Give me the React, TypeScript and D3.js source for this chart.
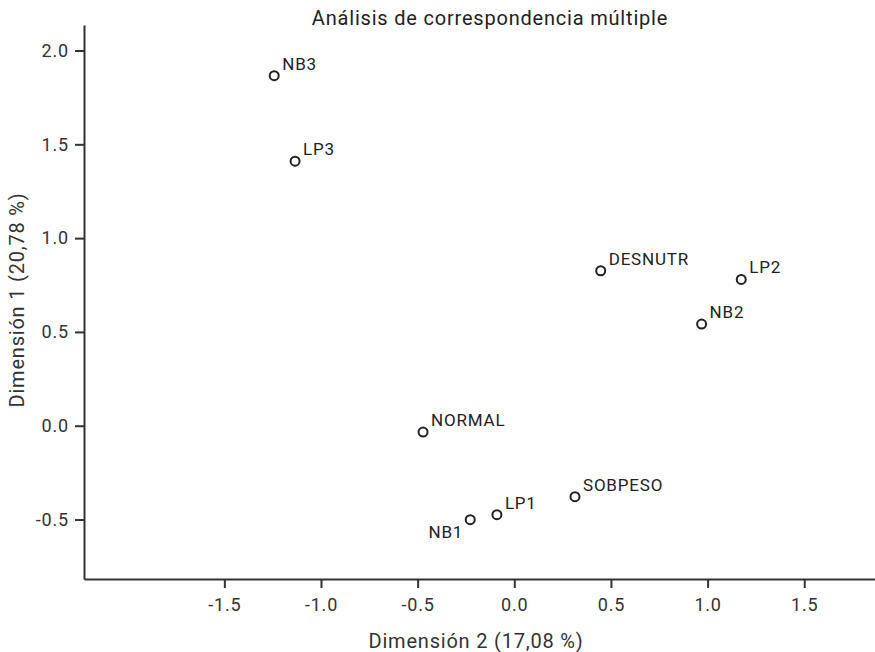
import React, { useEffect, useRef } from 'react';
import * as d3 from 'd3';

// category points of the MCA biplot
const categories = ['NB3', 'LP3', 'DESNUTR', 'LP2', 'NB2', 'NORMAL', 'SOBPESO', 'LP1', 'NB1'];
const dim2Values = [-1.242, -1.134, 0.447, 1.174, 0.969, -0.472, 0.314, -0.09, -0.228];
const dim1Values = [1.866, 1.41, 0.826, 0.78, 0.542, -0.034, -0.378, -0.474, -0.501];

const xTicks = [-1.5, -1.0, -0.5, 0.0, 0.5, 1.0, 1.5];
const yTicks = [-0.5, 0.0, 0.5, 1.0, 1.5, 2.0];

const chartTitle = 'Análisis de correspondencia múltiple';
const xLabel = 'Dimensión 2 (17,08 %)';
const yLabel = 'Dimensión 1 (20,78 %)';

// labels drawn below-left of their marker instead of above-right
const labelsBelowLeft = ['NB1'];

const App = () => {
  const svgRef = useRef<SVGSVGElement>(null);

  useEffect(() => {
    const width = 875;
    const height = 652;
    const margin = { top: 25, right: 0, bottom: 73, left: 84 };
    const font = 'Roboto, "Noto Sans", sans-serif';
    const ink = '#333';
    const fmt = (d: d3.NumberValue) => d3.format('.1f')(d).replace('\u2212', '-');

    const svg = d3.select(svgRef.current);
    svg.selectAll('*').remove();

    const x = d3.scaleLinear().domain([-2.226, 1.866]).range([margin.left, width - margin.right]);
    const y = d3.scaleLinear().domain([-0.817, 2.136]).range([height - margin.bottom, margin.top]);

    // title
    svg
      .append('text')
      .attr('x', 490)
      .attr('y', 25)
      .attr('text-anchor', 'middle')
      .attr('font-family', font)
      .attr('font-size', '20px')
      .attr('letter-spacing', '0.8px')
      .attr('fill', '#222')
      .text(chartTitle);

    // axes
    const xAxis = svg
      .append('g')
      .attr('transform', `translate(0, ${height - margin.bottom})`)
      .call(
        d3.axisBottom(x).tickValues(xTicks).tickFormat(fmt).tickSize(9).tickSizeOuter(0).tickPadding(10)
      );

    const yAxis = svg
      .append('g')
      .attr('transform', `translate(${margin.left}, 0)`)
      .call(
        d3.axisLeft(y).tickValues(yTicks).tickFormat(fmt).tickSize(9).tickSizeOuter(0).tickPadding(6)
      );

    [xAxis, yAxis].forEach((g) => {
      g.select('.domain').attr('stroke', ink).attr('stroke-width', 2);
      g.selectAll('.tick line').attr('stroke', ink).attr('stroke-width', 2);
      g.selectAll('.tick text')
        .attr('fill', ink)
        .attr('font-family', font)
        .attr('font-size', '18px')
        .attr('letter-spacing', '0.8px');
    });

    // axis titles
    svg
      .append('text')
      .attr('x', 476)
      .attr('y', 648)
      .attr('text-anchor', 'middle')
      .attr('font-family', font)
      .attr('font-size', '20px')
      .attr('letter-spacing', '0.8px')
      .attr('fill', ink)
      .text(xLabel);

    svg
      .append('text')
      .attr('transform', `translate(24, 300) rotate(-90)`)
      .attr('text-anchor', 'middle')
      .attr('font-family', font)
      .attr('font-size', '20px')
      .attr('letter-spacing', '0.8px')
      .attr('fill', ink)
      .text(yLabel);

    const points = categories.map((name, i) => ({ name, dx: dim2Values[i], dy: dim1Values[i] }));

    const pts = svg.append('g').selectAll('g').data(points).enter().append('g');

    pts
      .append('circle')
      .attr('cx', (d) => x(d.dx))
      .attr('cy', (d) => y(d.dy))
      .attr('r', 4.5)
      .attr('fill', 'none')
      .attr('stroke', '#222')
      .attr('stroke-width', 2);

    pts
      .append('text')
      .attr('x', (d) => x(d.dx) + (labelsBelowLeft.includes(d.name) ? -7 : 8))
      .attr('y', (d) => y(d.dy) + (labelsBelowLeft.includes(d.name) ? 18 : -6))
      .attr('text-anchor', (d) => (labelsBelowLeft.includes(d.name) ? 'end' : 'start'))
      .attr('font-family', font)
      .attr('font-size', '17px')
      .attr('letter-spacing', '0.8px')
      .attr('fill', '#222')
      .text((d) => d.name);
  }, []);

  return (
    <div style={{ position: 'absolute', left: 0, top: 0 }}>
      <svg ref={svgRef} width={875} height={652} style={{ display: 'block', background: '#fff' }}></svg>
    </div>
  );
};

export default App;
